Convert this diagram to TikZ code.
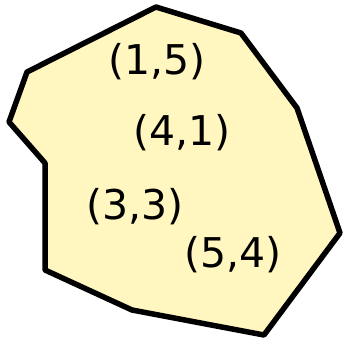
\documentclass[tikz,border=0pt]{standalone}
\usepackage{fontspec}
\newfontfamily\handfont{DejaVu Sans}
\usetikzlibrary{positioning}
\definecolor{paleyellow}{HTML}{FFF6C0}

\begin{document}
\begin{tikzpicture}[
    x=1pt, y=-1pt,
    pair/.style={font=\handfont\fontsize{41}{46}\selectfont, inner sep=0pt}
  ]
  \useasboundingbox (0,0) rectangle (343,343);

  % Region
  \draw[line width=5.5pt, line join=round, fill=paleyellow]
    (156,7) -- (241,33) -- (297,108) -- (340,233) -- (264,335)
    -- (132,310) -- (45,270) -- (45,163) -- (9,122) -- (27,72) -- cycle;

  % Points
  \node[pair] (p15) at (157,62) {(1,5)};
  \node[pair] (p41) at (182,133) {(4,1)};
  \node[pair] (p33) at (135,207) {(3,3)};
  \node[pair] (p54) at (233,255) {(5,4)};
\end{tikzpicture}
\end{document}
